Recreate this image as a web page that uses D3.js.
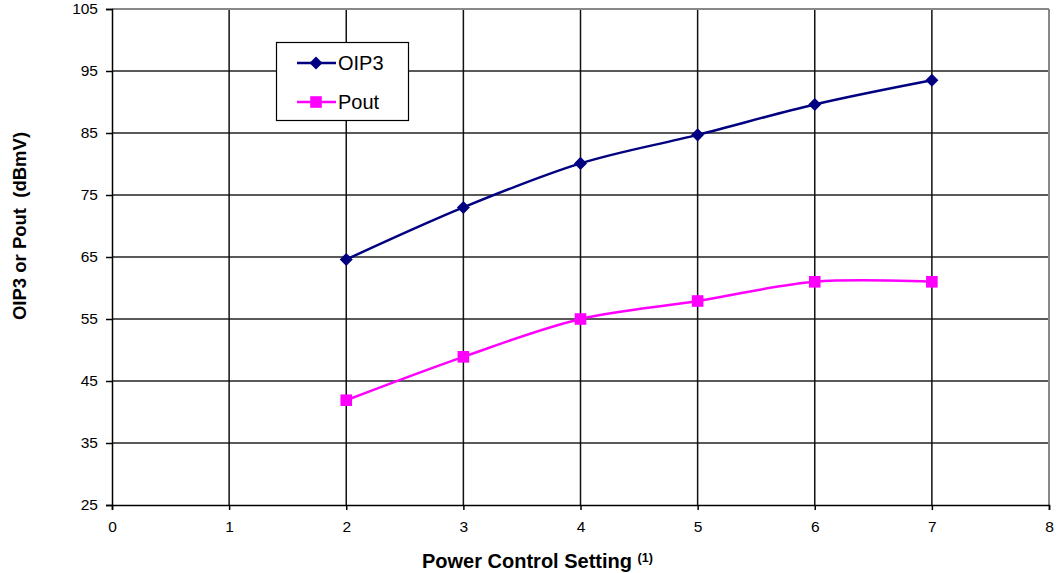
<!DOCTYPE html>
<html><head><meta charset="utf-8">
<script src="https://cdn.jsdelivr.net/npm/d3@7/dist/d3.min.js"></script>
<style>body{margin:0;background:#fff}svg{display:block;font-family:"Liberation Sans",Arial,sans-serif}</style>
</head><body><svg id="c" width="1061" height="573"></svg>
<script>
const settings = [2, 3, 4, 5, 6, 7];
const oip3 = [64.6, 73.0, 80.1, 84.7, 89.6, 93.5];
const pout = [41.9, 48.9, 55.0, 57.9, 61.0, 61.0];
const xTicks = [0, 1, 2, 3, 4, 5, 6, 7, 8];
const yTicks = [25, 35, 45, 55, 65, 75, 85, 95, 105];

const svg = d3.select("#c");
const L = 112, R = 1049, T = 9, B = 505;
const x = d3.scaleLinear().domain([0, 8]).range([L, R]);
const y = d3.scaleLinear().domain([25, 105]).range([B, T]);

// grid
svg.append("g").selectAll("line").data(yTicks.slice(1, -1)).join("line")
  .attr("x1", L).attr("x2", R).attr("y1", d => y(d)).attr("y2", d => y(d))
  .attr("stroke", "#222").attr("stroke-width", 1.5);
svg.append("g").selectAll("line").data(xTicks.slice(1, -1)).join("line")
  .attr("y1", T).attr("y2", B).attr("x1", d => x(d)).attr("x2", d => x(d))
  .attr("stroke", "#111").attr("stroke-width", 1.5);
svg.append("line").attr("x1", L).attr("x2", R).attr("y1", T).attr("y2", T).attr("stroke", "#888").attr("stroke-width", 2);
svg.append("line").attr("x1", R).attr("x2", R).attr("y1", T).attr("y2", B).attr("stroke", "#888").attr("stroke-width", 2);

// axes
const ya = svg.append("g").attr("transform", `translate(${L},0)`)
  .call(d3.axisLeft(y).tickValues(yTicks).tickSize(6).tickPadding(8));
const xa = svg.append("g").attr("transform", `translate(0,${B})`)
  .call(d3.axisBottom(x).tickValues(xTicks).tickSize(5).tickPadding(11));
[ya, xa].forEach(a => {
  a.select(".domain").attr("stroke", "#000").attr("stroke-width", 1.5);
  a.selectAll(".tick line").attr("stroke", "#000").attr("stroke-width", 1.5);
  a.selectAll("text").attr("font-size", 15.5).attr("fill", "#000").attr("font-family", "Liberation Sans, Arial, sans-serif");
});

// series
const curve = d3.curveCardinal.tension(0);
const series = [
  {name: "OIP3", vals: oip3, color: "#000080", shape: d3.symbolSquare, size: 85, rot: 45},
  {name: "Pout", vals: pout, color: "#FF00FF", shape: d3.symbolSquare, size: 135, rot: 0}
];
series.forEach(s => {
  const pts = settings.map((d, i) => [d, s.vals[i]]);
  svg.append("path").datum(pts)
    .attr("d", d3.line().x(d => x(d[0])).y(d => y(d[1])).curve(curve))
    .attr("fill", "none").attr("stroke", s.color).attr("stroke-width", 2.5);
  svg.append("g").selectAll("path").data(pts).join("path")
    .attr("transform", d => `translate(${x(d[0])},${y(d[1])}) rotate(${s.rot})`)
    .attr("d", d3.symbol().type(s.shape).size(s.size)).attr("fill", s.color);
});

// legend
const lg = svg.append("g");
lg.append("rect").attr("x", 276.5).attr("y", 42.5).attr("width", 132).attr("height", 78)
  .attr("fill", "#fff").attr("stroke", "#000").attr("stroke-width", 1.2);
series.forEach((s, i) => {
  const yy = 63 + i * 39;
  lg.append("line").attr("x1", 297).attr("x2", 336).attr("y1", yy).attr("y2", yy)
    .attr("stroke", s.color).attr("stroke-width", 2.5);
  lg.append("path").attr("transform", `translate(316,${yy}) rotate(${s.rot})`)
    .attr("d", d3.symbol().type(s.shape).size(s.size)).attr("fill", s.color);
  lg.append("text").attr("x", 338).attr("y", yy + 7).attr("font-size", 20).text(s.name);
});

// axis titles
const xt = svg.append("text").attr("x", 422).attr("y", 568).attr("text-anchor", "start")
  .attr("font-weight", "bold").attr("font-size", 20);
xt.append("tspan").text("Power Control Setting ");
xt.append("tspan").attr("font-size", 12.5).attr("dy", -6).text("(1)");
svg.append("text").attr("transform", "translate(26,226) rotate(-90)").attr("text-anchor", "middle")
  .attr("font-weight", "bold").attr("font-size", 18.5).attr("xml:space", "preserve").text("OIP3 or Pout  (dBmV)");
</script></body></html>
